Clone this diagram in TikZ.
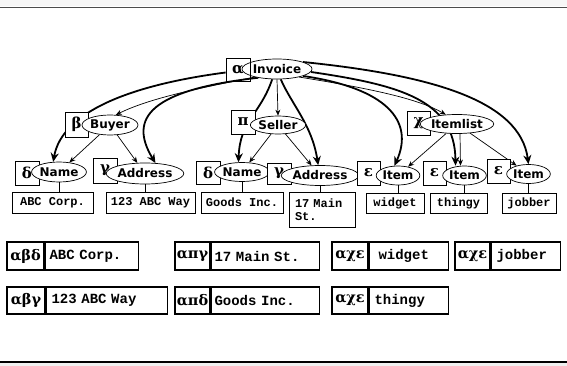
\documentclass[tikz,border=0pt]{standalone}
\usepackage{fontspec}
\usetikzlibrary{shapes.geometric,arrows.meta}
\newfontfamily\lblfont{DejaVu Sans}
\newfontfamily\grkfont{DejaVu Serif}
\newfontfamily\valfont{Liberation Mono}
\pgfdeclarelayer{bg}
\pgfsetlayers{bg,main}
\begin{document}
\begin{tikzpicture}[x=1pt,y=-1pt,
  lbl/.style={ellipse, draw, line width=0.7pt, fill=white, inner sep=0pt, font=\lblfont\bfseries\fontsize{12}{14}\selectfont},
  gbox/.style={draw, line width=0.7pt, fill=white, inner sep=0pt, font=\grkfont\bfseries\fontsize{15}{16}\selectfont},
  vbox/.style={draw, line width=0.7pt, fill=white, inner sep=0pt, font=\valfont\bfseries\fontsize{12}{13.5}\selectfont},
  thinarr/.style={line width=0.7pt, -{Stealth[length=6pt,width=5pt]}},
  thickarr/.style={line width=1.8pt, -{Stealth[length=9pt,width=8pt]}},
  stem/.style={line width=0.7pt},
  tg/.style={draw, line width=1.5pt, inner sep=0pt, font=\grkfont\bfseries\fontsize{14.5}{16}\selectfont},
  tv/.style={draw, line width=1.5pt, inner sep=0pt, inner xsep=0pt, anchor=west, align=left, font=\valfont\bfseries\fontsize{14}{15}\selectfont}
]
\useasboundingbox (0,0) rectangle (567,366);
% slide frame lines
\fill[gray!7] (0,0) rectangle (567,6.5);
\draw[gray!60!black, line width=1.2pt] (0,7.5) -- (567,7.5);
\fill[gray!12] (0,363) rectangle (567,366);
\draw[black, line width=1.3pt] (0,362) -- (567,362);

% tree nodes
\node[lbl, minimum width=70pt, minimum height=20pt] (inv) at (277,69) {Invoice};
\node[gbox, fill=none, minimum width=24pt, minimum height=23pt] (alpha) at (238,69.5) {α};

\node[gbox, minimum width=23pt, minimum height=25pt] (beta) at (76.5,124.5) {β};
\node[lbl, minimum width=46pt, minimum height=20pt] (buyer) at (110,125) {Buyer};
\node[gbox, minimum width=24pt, minimum height=24pt] (pi) at (243,122) {π};
\node[lbl, minimum width=44pt, minimum height=18pt] (seller) at (278,125) {Seller};
\node[gbox, minimum width=23pt, minimum height=24pt] (chi) at (418.5,123) {χ};
\node[lbl, minimum width=62pt, minimum height=19pt] (itemlist) at (457,124) {Itemlist};

\node[gbox, minimum width=24pt, minimum height=24pt] (d1) at (27,173) {δ};
\node[lbl, minimum width=44pt, minimum height=20pt] (name1) at (59,172) {Name};
\node[gbox, minimum width=24pt, minimum height=25pt] (g1) at (105,170.5) {γ};
\node[lbl, minimum width=64pt, minimum height=21pt] (addr1) at (145,173.5) {Address};
\node[gbox, minimum width=24pt, minimum height=23pt] (d2) at (208,172.5) {δ};
\node[lbl, minimum width=42pt, minimum height=19pt] (name2) at (242,172) {Name};
\node[gbox, minimum width=24pt, minimum height=21pt] (g2) at (279,173.5) {γ};
\node[lbl, minimum width=65pt, minimum height=20pt] (addr2) at (320,175.5) {Address};
\node[gbox, minimum width=23pt, minimum height=24pt] (e1) at (368.5,173) {ε};
\node[lbl, minimum width=38pt, minimum height=19pt] (item1) at (398,175.5) {Item};
\node[gbox, minimum width=23pt, minimum height=24pt] (e2) at (434.5,173) {ε};
\node[lbl, minimum width=37pt, minimum height=19pt] (item2) at (464.5,175.5) {Item};
\node[gbox, minimum width=23pt, minimum height=24pt] (e3) at (498.5,171) {ε};
\node[lbl, minimum width=37pt, minimum height=19pt] (item3) at (528.5,174) {Item};

% value boxes
\node[vbox, minimum width=81pt, minimum height=21pt] (v1) at (52.5,202.5) {ABC Corp.};
\node[vbox, minimum width=89pt, minimum height=21pt] (v2) at (150.5,202.5) {123 ABC Way};
\node[vbox, minimum width=82pt, minimum height=21pt] (v3) at (242,202.5) {Goods Inc.};
\node[vbox, minimum width=66pt, minimum height=35pt, text width=66pt, align=left] (v4) at (322,209.5) {\hspace*{6pt}17 Main\\\hspace*{6pt}St.};
\node[vbox, minimum width=58pt, minimum height=20pt] (v5) at (395,203) {widget};
\node[vbox, minimum width=57pt, minimum height=20pt] (v6) at (458.5,203) {thingy};
\node[vbox, minimum width=54pt, minimum height=20pt] (v7) at (529,203) {jobber};

% connectors (behind nodes)
\begin{pgfonlayer}{bg}
  % thin tree edges
  \draw[thinarr] (inv.200) .. controls (200,88) and (150,98) .. (buyer.60);
  \draw[thinarr] (inv.-90) -- (seller.north);
  \draw[thinarr] (inv.-20) .. controls (380,90) and (420,100) .. (itemlist.140);
  \draw[thinarr] (buyer) -- (name1);
  \draw[thinarr] (buyer) -- (addr1);
  \draw[thinarr] (seller) -- (name2);
  \draw[thinarr] (seller) -- (addr2);
  \draw[thinarr] (itemlist) -- (item1);
  \draw[thinarr] ([xshift=3pt]itemlist.south) -- ([xshift=-4pt]item2.north);
  \draw[thinarr] (itemlist) -- (item3);
  % thick path arrows
  \draw[thickarr] ([yshift=-3pt]alpha.west) .. controls (130,85) and (62,112) .. (name1.120);
  \draw[thickarr] (inv.205) .. controls (150,90) and (128,118) .. (addr1.45);
  \draw[thickarr] (inv.-115) .. controls (260,115) and (240,120) .. (name2.110);
  \draw[thickarr] (inv.-70) .. controls (292,105) and (312,125) .. (addr2.100);
  \draw[thickarr] (inv.-15) .. controls (385,88) and (415,120) .. (item1.110);
  \draw[thickarr] (inv.-5) .. controls (400,85) and (455,100) .. ([xshift=-9pt]item2.north);
  \draw[thickarr] (inv.15) .. controls (430,75) and (520,100) .. (item3.north);
  % stems to values
  \draw[stem] (name1.south) -- (name1.south |- v1.north);
  \draw[stem] (addr1.south) -- (addr1.south |- v2.north);
  \draw[stem] (name2.south) -- (name2.south |- v3.north);
  \draw[stem] (addr2.south) -- (addr2.south |- v4.north);
  \draw[stem] (item1.south) -- (item1.south |- v5.north);
  \draw[stem] (item2.south) -- (item2.south |- v6.north);
  \draw[stem] (item3.south) -- (item3.south |- v7.north);
\end{pgfonlayer}

% bottom table
\node[tg, minimum width=37pt, minimum height=28pt] (t1) at (25.5,256) {αβδ};
\node[tv, minimum height=28pt, text width=93pt] (t1v) at (t1.east) {\hspace*{4pt}ABC Corp.};
\node[tg, minimum width=38pt, minimum height=27pt] (t2) at (26,300.5) {αβγ};
\node[tv, minimum height=27pt, text width=121pt] (t2v) at (t2.east) {\hspace*{5pt}123 ABC Way};
\node[tg, minimum width=35pt, minimum height=28pt] (t3) at (192.5,256) {απγ};
\node[tv, minimum height=28pt, text width=108pt] (t3v) at (t3.east) {\hspace*{3pt}17 Main St.};
\node[tg, minimum width=35pt, minimum height=27pt] (t4) at (192.5,300.5) {απδ};
\node[tv, minimum height=27pt, text width=108pt] (t4v) at (t4.east) {\hspace*{3pt}Goods Inc.};
\node[tg, minimum width=36pt, minimum height=28pt] (t5) at (350,256) {αχε};
\node[tv, minimum height=28pt, text width=79pt] (t5v) at (t5.east) {\hspace*{9pt}widget};
\node[tg, minimum width=35pt, minimum height=28pt] (t6) at (472.5,256) {αχε};
\node[tv, minimum height=28pt, text width=69pt] (t6v) at (t6.east) {\hspace*{5pt}jobber};
\node[tg, minimum width=36pt, minimum height=27pt] (t7) at (350,300.5) {αχε};
\node[tv, minimum height=27pt, text width=79pt] (t7v) at (t7.east) {\hspace*{5pt}thingy};
\end{tikzpicture}
\end{document}
